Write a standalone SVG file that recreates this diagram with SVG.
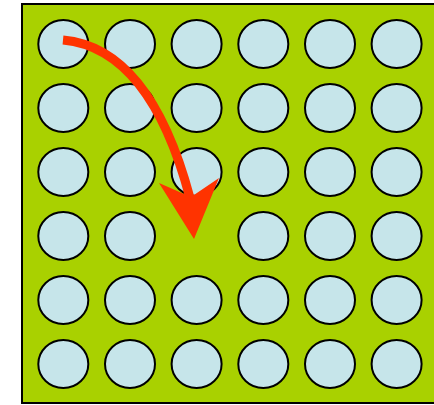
<svg xmlns="http://www.w3.org/2000/svg" width="434" height="405" viewBox="0 0 434 405">
<style>
.c{fill:#c6e5ea;stroke:#000;stroke-width:2}
.a{fill:none;stroke:#ff3300;stroke-width:9}
</style>
<rect width="434" height="405" fill="#fff"/>
<rect id="board" x="22" y="4" width="420" height="399" fill="#a9d100" stroke="#000" stroke-width="2"/>
<g id="circles">
<g id="r1">
<ellipse class="c" cx="63.3" cy="44" rx="25" ry="24"/><ellipse class="c" cx="130" cy="44" rx="25" ry="24"/><ellipse class="c" cx="196.6" cy="44" rx="25" ry="24"/><ellipse class="c" cx="263.3" cy="44" rx="25" ry="24"/><ellipse class="c" cx="330" cy="44" rx="25" ry="24"/><ellipse class="c" cx="396.6" cy="44" rx="25" ry="24"/>
</g>
<g id="r2">
<ellipse class="c" cx="63.3" cy="108" rx="25" ry="24"/><ellipse class="c" cx="130" cy="108" rx="25" ry="24"/><ellipse class="c" cx="196.6" cy="108" rx="25" ry="24"/><ellipse class="c" cx="263.3" cy="108" rx="25" ry="24"/><ellipse class="c" cx="330" cy="108" rx="25" ry="24"/><ellipse class="c" cx="396.6" cy="108" rx="25" ry="24"/>
</g>
<g id="r3">
<ellipse class="c" cx="63.3" cy="172" rx="25" ry="24"/><ellipse class="c" cx="130" cy="172" rx="25" ry="24"/><ellipse class="c" cx="196.6" cy="172" rx="25" ry="24"/><ellipse class="c" cx="263.3" cy="172" rx="25" ry="24"/><ellipse class="c" cx="330" cy="172" rx="25" ry="24"/><ellipse class="c" cx="396.6" cy="172" rx="25" ry="24"/>
</g>
<g id="r4">
<ellipse class="c" cx="63.3" cy="236" rx="25" ry="24"/><ellipse class="c" cx="130" cy="236" rx="25" ry="24"/><ellipse class="c" cx="263.3" cy="236" rx="25" ry="24"/><ellipse class="c" cx="330" cy="236" rx="25" ry="24"/><ellipse class="c" cx="396.6" cy="236" rx="25" ry="24"/>
</g>
<g id="r5">
<ellipse class="c" cx="63.3" cy="300" rx="25" ry="24"/><ellipse class="c" cx="130" cy="300" rx="25" ry="24"/><ellipse class="c" cx="196.6" cy="300" rx="25" ry="24"/><ellipse class="c" cx="263.3" cy="300" rx="25" ry="24"/><ellipse class="c" cx="330" cy="300" rx="25" ry="24"/><ellipse class="c" cx="396.6" cy="300" rx="25" ry="24"/>
</g>
<g id="r6">
<ellipse class="c" cx="63.3" cy="364" rx="25" ry="24"/><ellipse class="c" cx="130" cy="364" rx="25" ry="24"/><ellipse class="c" cx="196.6" cy="364" rx="25" ry="24"/><ellipse class="c" cx="263.3" cy="364" rx="25" ry="24"/><ellipse class="c" cx="330" cy="364" rx="25" ry="24"/><ellipse class="c" cx="396.6" cy="364" rx="25" ry="24"/>
</g>
</g>
<g id="connectors">
<path class="a" d="M63,40 Q150,48 190,198"/>
<polygon points="159,183 191,197 219,178 194,239" fill="#ff3300"/>
</g>
</svg>
